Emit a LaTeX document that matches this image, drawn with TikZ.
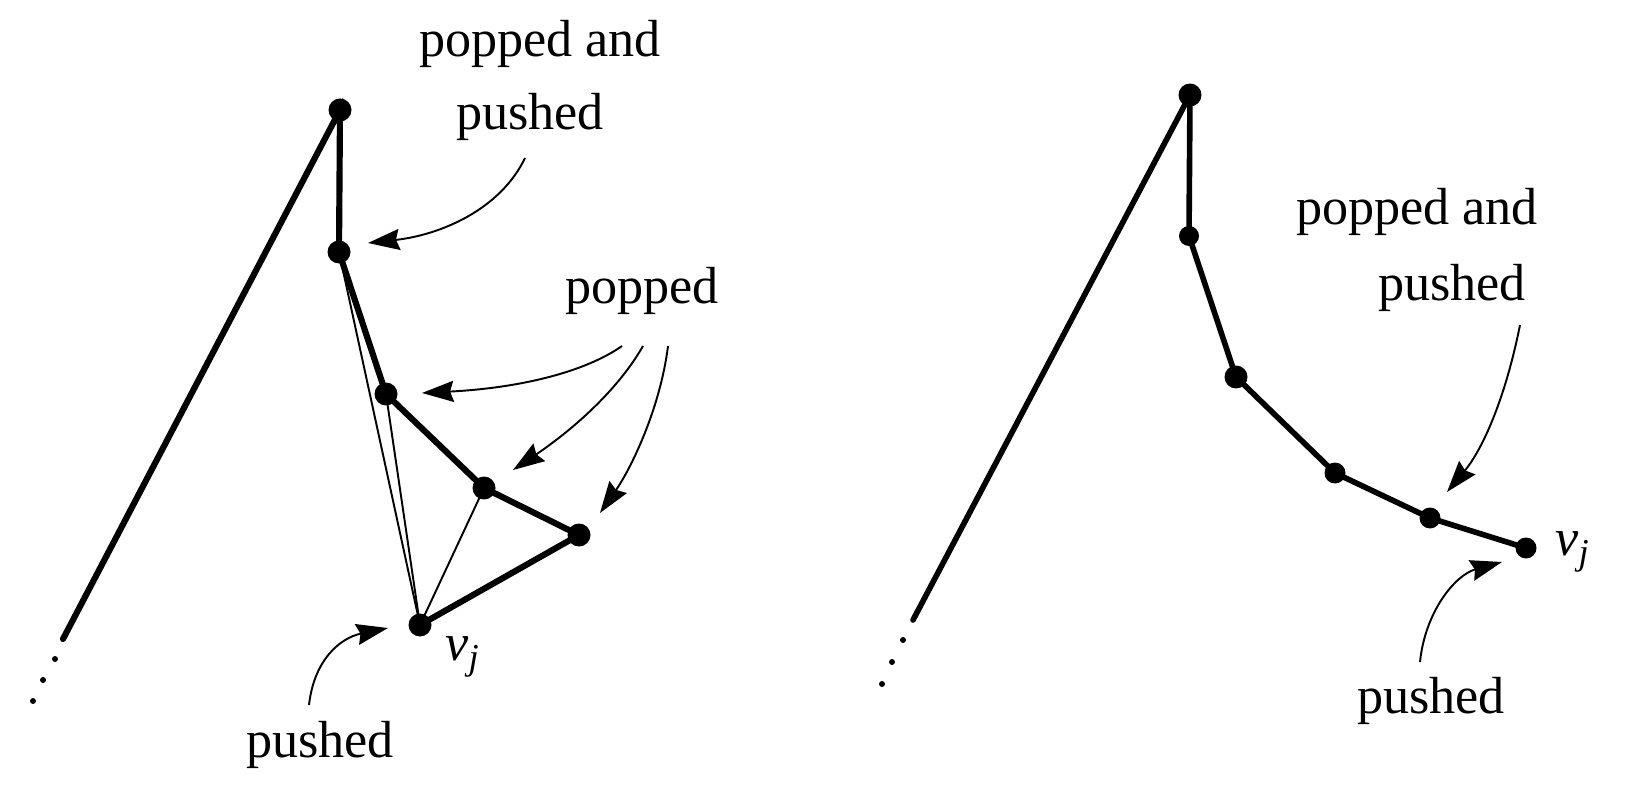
\documentclass[tikz,border=0pt]{standalone}
\usepackage{fontspec}
\setmainfont{Liberation Serif}
\usetikzlibrary{arrows.meta}
\tikzset{
  dot/.style={circle,fill=black,inner sep=0pt,minimum size=0.46cm},
  tinydot/.style={circle,fill=black,inner sep=0pt,minimum size=0.12cm},
  thick edge/.style={line width=3.5pt,line cap=round},
  thin edge/.style={line width=1.1pt},
  pointer/.style={line width=1.1pt,-{Stealth[length=18pt,width=12pt,inset=2pt]}},
  lbl/.style={anchor=base,inner sep=0pt,font=\fontsize{29.7pt}{36pt}\selectfont},
}
\begin{document}
\begin{tikzpicture}[x=0.02cm,y=-0.02cm]
\useasboundingbox (0,0) rectangle (1629,787);
% ---------------- left diagram ----------------
\node[dot] (A) at (340,110) {};
\node[dot] (B) at (339,252) {};
\node[dot] (C) at (386,394) {};
\node[dot] (D) at (484,488) {};
\node[dot] (E) at (579,535) {};
\node[dot] (V) at (420,625) {};
\coordinate (L) at (63,639);
\node[tinydot] (l1) at (55,659) {};
\node[tinydot] (l2) at (43,680) {};
\node[tinydot] (l3) at (33,701) {};
\draw[thick edge] (L) -- (A.center) -- (B.center) -- (C.center) -- (D.center) -- (E.center) -- (V.center);
\draw[thin edge] (V.center) -- (B.center);
\draw[thin edge] (V.center) -- (C.center);
\draw[thin edge] (V.center) -- (D.center);

\node[lbl] (t1) at (540,57) {popped and};
\node[lbl] (t2) at (530,130) {pushed};
\node[lbl] (t3) at (642,303) {popped};
\node[lbl] (t4) at (320,757) {pushed};
\node[lbl,anchor=base west] (vj) at (445,660) {$\mathit{v}_{\mathit{j}}$};

\coordinate (s1) at (525,158);
\coordinate (h1) at (368,243);
\draw[pointer] (s1) .. controls (500,210) and (440,235) .. (h1);
\coordinate (s2) at (622,346);
\coordinate (h2) at (422,393);
\draw[pointer] (s2) .. controls (585,372) and (520,388) .. (h2);
\coordinate (s3) at (643,346);
\coordinate (h3) at (513,470);
\draw[pointer] (s3) .. controls (615,395) and (565,435) .. (h3);
\coordinate (s4) at (668,346);
\coordinate (h4) at (600,513);
\draw[pointer] (s4) .. controls (660,410) and (630,470) .. (h4);
\coordinate (s5) at (309,705);
\coordinate (h5) at (388,628);
\draw[pointer] (s5) .. controls (314,660) and (340,638) .. (h5);

% ---------------- right diagram ----------------
\node[dot] (RA) at (1190,95) {};
\node[dot,minimum size=0.4cm] (RB) at (1189,236) {};
\node[dot] (RC) at (1236,377) {};
\node[dot,minimum size=0.42cm] (RD) at (1335,473) {};
\node[dot,minimum size=0.42cm] (RE) at (1430,518) {};
\node[dot,minimum size=0.42cm] (RV) at (1526,548) {};
\coordinate (RL) at (913,620);
\node[tinydot] (r1) at (903,640) {};
\node[tinydot] (r2) at (892,662) {};
\node[tinydot] (r3) at (882,684) {};
\draw[thick edge,line width=3.2pt] (RL) -- (RA.center) -- (RB.center) -- (RC.center) -- (RD.center) -- (RE.center) -- (RV.center);

\node[lbl] (u1) at (1417,225) {popped and};
\node[lbl] (u2) at (1452,300) {pushed};
\node[lbl] (u3) at (1431,713) {pushed};
\node[lbl,anchor=base west] (rvj) at (1555,555) {$\mathit{v}_{\mathit{j}}$};

\coordinate (p1) at (1520,325);
\coordinate (q1) at (1447,492);
\draw[pointer] (p1) .. controls (1505,400) and (1482,450) .. (q1);
\coordinate (p2) at (1420,662);
\coordinate (q2) at (1502,562);
\draw[pointer] (p2) .. controls (1425,612) and (1455,575) .. (q2);
\end{tikzpicture}
\end{document}
